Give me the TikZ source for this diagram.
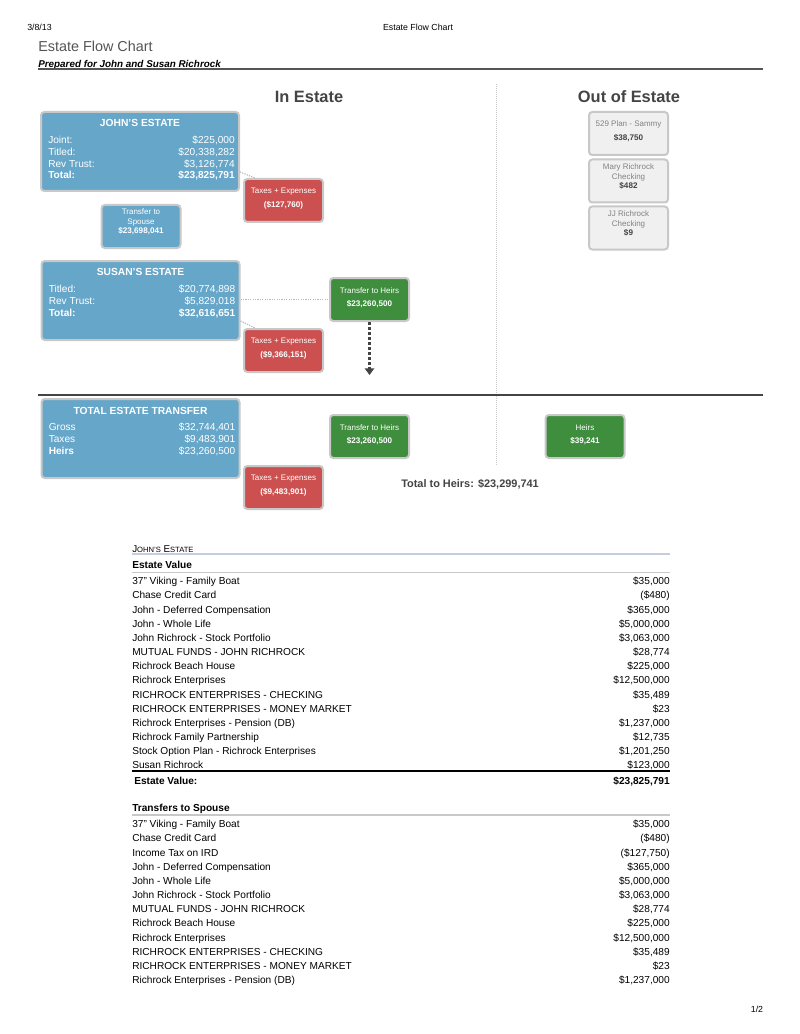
\documentclass[tikz,border=0pt]{standalone}
\usepackage{fontspec}
\setmainfont{Liberation Sans}
\usepackage{xcolor}
\definecolor{estblue}{RGB}{102,166,201}
\definecolor{taxred}{RGB}{204,80,80}
\definecolor{heirgreen}{RGB}{62,142,62}
\definecolor{boxedge}{RGB}{200,200,200}
\definecolor{outfill}{RGB}{240,240,240}
\definecolor{labgray}{RGB}{130,130,130}
\definecolor{inkgray}{RGB}{68,68,68}
\definecolor{rulegray}{RGB}{85,85,85}
\definecolor{headrule}{RGB}{197,207,219}
\usepackage{tikz}
\usetikzlibrary{arrows.meta, positioning, calc}

\tikzset{
  smbox/.style={draw=boxedge, line width=1.5pt, rounded corners=2.5pt, inner sep=0pt,
    minimum width=59.25pt, minimum height=32.25pt},
  bigbox/.style={smbox, fill=estblue, minimum width=148.5pt, minimum height=59.25pt},
  redbox/.style={smbox, fill=taxred},
  greenbox/.style={smbox, fill=heirgreen},
  bluebox/.style={smbox, fill=estblue},
  outbox/.style={smbox, fill=outfill},
  txt/.style={inner sep=0pt, text height=0.72em, text depth=0pt},
  boxtitle/.style={txt, text=white, font=\fontsize{7.7}{9}\selectfont\bfseries},
  rowtxt/.style={txt, text=white, font=\fontsize{7.6}{9}\selectfont},
  rowbold/.style={txt, text=white, font=\fontsize{7.6}{9}\selectfont\bfseries},
  smlab/.style={inner sep=0pt, align=center, font=\fontsize{6}{7.5}\selectfont},
  smval/.style={txt, font=\fontsize{6.1}{7.5}\selectfont\bfseries},
  sectitle/.style={txt, text=inkgray, font=\fontsize{12.3}{14}\selectfont\bfseries},
  tabtxt/.style={txt, font=\fontsize{7.6}{9}\selectfont},
  tabbold/.style={txt, font=\fontsize{7.6}{9}\selectfont\bfseries},
  linkdot/.style={draw=gray!55, line width=0.9pt, dash pattern=on 0.9pt off 0.9pt},
  flowarrow/.style={draw=inkgray, line width=2.25pt, dash pattern=on 2.25pt off 1.5pt,
    -{Triangle[width=7pt,length=5pt]}},
}

\begin{document}
\begin{tikzpicture}[x=0.75pt, y=-0.75pt]
\fill[white] (0,0) rectangle (799,1034);

% page head
\node[txt, anchor=west, font=\fontsize{6.6}{8}\selectfont] (date) at (27,26) {3/8/13};
\node[txt, font=\fontsize{6.6}{8}\selectfont] (pagehead) at (418,26) {Estate Flow Chart};
\node[txt, anchor=west, text=rulegray, font=\fontsize{10.8}{13}\selectfont] (title) at (38,47) {Estate Flow Chart};
\node[txt, anchor=west, font=\fontsize{7.4}{9}\selectfont\bfseries\itshape] (prep) at (38,63) {Prepared for John and Susan Richrock};
\draw[rulegray, line width=1.5pt] (38,69) -- (763,69);

\node[sectitle] (inest) at (309,98) {In Estate};
\node[sectitle] (outest) at (629,98) {Out of Estate};
\draw[gray!45, line width=0.75pt, dash pattern=on 0.75pt off 0.75pt] (496,84) -- (496,466);
\draw[inkgray, line width=0.9pt] (38,395) -- (763,395);

% estate boxes
\node[bigbox] (john) at (140,151.5) {};
\node[bigbox] (susan) at (140.5,300.5) {};
\node[bigbox] (total) at (140.5,438.5) {};
\node[boxtitle] (john-t) at ($(john.north)+(0,11)$) {JOHN'S ESTATE};
\node[boxtitle] (susan-t) at ($(susan.north)+(0,11)$) {SUSAN'S ESTATE};
\node[boxtitle] (total-t) at ($(total.north)+(0,12)$) {TOTAL ESTATE TRANSFER};

\foreach \bx/\k/\lab/\val/\ls/\vs in {
  john/0/Joint:/{\$225,000}/rowtxt/rowtxt,
  john/1/Titled:/{\$20,338,282}/rowtxt/rowtxt,
  john/2/Rev Trust:/{\$3,126,774}/rowtxt/rowtxt,
  john/3/Total:/{\$23,825,791}/rowbold/rowbold,
  susan/0/Titled:/{\$20,774,898}/rowtxt/rowtxt,
  susan/1/Rev Trust:/{\$5,829,018}/rowtxt/rowtxt,
  susan/2/Total:/{\$32,616,651}/rowbold/rowbold,
  total/0/Gross/{\$32,744,401}/rowtxt/rowtxt,
  total/1/Taxes/{\$9,483,901}/rowtxt/rowtxt,
  total/2/Heirs/{\$23,260,500}/rowbold/rowtxt}
{
  \node[\ls, anchor=west] (\bx-r\k-l) at ($(\bx.north west)+(8,28+11.7*\k)$) {\lab};
  \node[\vs, anchor=east] (\bx-r\k-v) at ($(\bx.north east)+(-5,28+11.7*\k)$) {\val};
}

% small boxes
\foreach \nm/\cx/\cy/\kind/\tc/\vc/\lab/\val in {
  tax1/283.5/200.5/redbox/white/white/{Taxes + Expenses}/{(\$127,760)},
  spouse/141/226.5/bluebox/white/white/{Transfer to\\Spouse}/{\$23,698,041},
  plan/628.5/133.5/outbox/labgray/inkgray/{529 Plan - Sammy}/{\$38,750},
  mary/628.5/181/outbox/labgray/inkgray/{Mary Richrock\\Checking}/{\$482},
  jj/628.5/228/outbox/labgray/inkgray/{JJ Richrock\\Checking}/{\$9},
  heirsA/369.5/299.5/greenbox/white/white/{Transfer to Heirs}/{\$23,260,500},
  tax2/283.5/350.5/redbox/white/white/{Taxes + Expenses}/{(\$9,366,151)},
  heirsB/369.5/436.5/greenbox/white/white/{Transfer to Heirs}/{\$23,260,500},
  heirs/585/436.5/greenbox/white/white/{Heirs}/{\$39,241},
  tax3/283.5/487.5/redbox/white/white/{Taxes + Expenses}/{(\$9,483,901)}}
{
  \node[\kind] (\nm) at (\cx,\cy) {};
  \node[smlab, text=\tc] (\nm-l) at ($(\nm.north)+(0,13.5)$) {\lab};
  \node[smval, text=\vc] (\nm-v) at ($(\nm.north)+(0,25)$) {\val};
}

% connectors
\draw[linkdot] ($(john.south east)+(0,-20)$) -- ($(tax1.north west)+(12,0)$);
\draw[linkdot] ($(susan.south east)+(0,-20)$) -- ($(tax2.north west)+(12,0)$);
\draw[linkdot] (susan.east |- heirsA.west) -- (heirsA.west);
\coordinate (arrend) at (369.5,375);
\draw[flowarrow] (heirsA.south) -- (arrend);

\node[txt, anchor=west, text=inkgray, font=\fontsize{8.2}{10}\selectfont\bfseries] (totheirs) at (401,483) {Total to Heirs: \$23,299,741};

% John's estate table
\node[txt, anchor=west, font=\fontsize{7.4}{9}\selectfont] (jhead) at (132,548)
  {J{\fontsize{5.7}{7}\selectfont OHN'S} E{\fontsize{5.7}{7}\selectfont STATE}};
\draw[headrule, line width=1.5pt] (132,554) -- (670,554);
\node[tabbold, anchor=west] (evhead) at (132,564) {Estate Value};
\draw[boxedge, line width=0.75pt] (132,572) -- (670,572);

\foreach \k/\lab/\val in {
  1/{37" Viking - Family Boat}/{\$35,000},
  2/{Chase Credit Card}/{(\$480)},
  3/{John - Deferred Compensation}/{\$365,000},
  4/{John - Whole Life}/{\$5,000,000},
  5/{John Richrock - Stock Portfolio}/{\$3,063,000},
  6/{MUTUAL FUNDS - JOHN RICHROCK}/{\$28,774},
  7/{Richrock Beach House}/{\$225,000},
  8/{Richrock Enterprises}/{\$12,500,000},
  9/{RICHROCK ENTERPRISES - CHECKING}/{\$35,489},
  10/{RICHROCK ENTERPRISES - MONEY MARKET}/{\$23},
  11/{Richrock Enterprises - Pension (DB)}/{\$1,237,000},
  12/{Richrock Family Partnership}/{\$12,735},
  13/{Stock Option Plan - Richrock Enterprises}/{\$1,201,250},
  14/{Susan Richrock}/{\$123,000}}
{
  \pgfmathsetmacro\yy{580+(\k-1)*14.15}
  \node[tabtxt, anchor=west] (ev-\k-l) at (132,\yy) {\lab};
  \node[tabtxt, anchor=east] (ev-\k-v) at (670,\yy) {\val};
}
\draw[black, line width=1.2pt] (132,771) -- (670,771);
\node[tabbold, anchor=west] (evtot) at (134,780) {Estate Value:};
\node[tabbold, anchor=east] (evtot-v) at (670,780) {\$23,825,791};

\node[tabbold, anchor=west] (tshead) at (132,807) {Transfers to Spouse};
\draw[boxedge, line width=1.5pt] (132,815) -- (670,815);

\foreach \k/\lab/\val in {
  1/{37" Viking - Family Boat}/{\$35,000},
  2/{Chase Credit Card}/{(\$480)},
  3/{Income Tax on IRD}/{(\$127,750)},
  4/{John - Deferred Compensation}/{\$365,000},
  5/{John - Whole Life}/{\$5,000,000},
  6/{John Richrock - Stock Portfolio}/{\$3,063,000},
  7/{MUTUAL FUNDS - JOHN RICHROCK}/{\$28,774},
  8/{Richrock Beach House}/{\$225,000},
  9/{Richrock Enterprises}/{\$12,500,000},
  10/{RICHROCK ENTERPRISES - CHECKING}/{\$35,489},
  11/{RICHROCK ENTERPRISES - MONEY MARKET}/{\$23},
  12/{Richrock Enterprises - Pension (DB)}/{\$1,237,000}}
{
  \pgfmathsetmacro\yy{823+(\k-1)*14.15}
  \node[tabtxt, anchor=west] (ts-\k-l) at (132,\yy) {\lab};
  \node[tabtxt, anchor=east] (ts-\k-v) at (670,\yy) {\val};
}

\node[txt, font=\fontsize{6.6}{8}\selectfont] (pgno) at (757,1008) {1/2};
\end{tikzpicture}
\end{document}
